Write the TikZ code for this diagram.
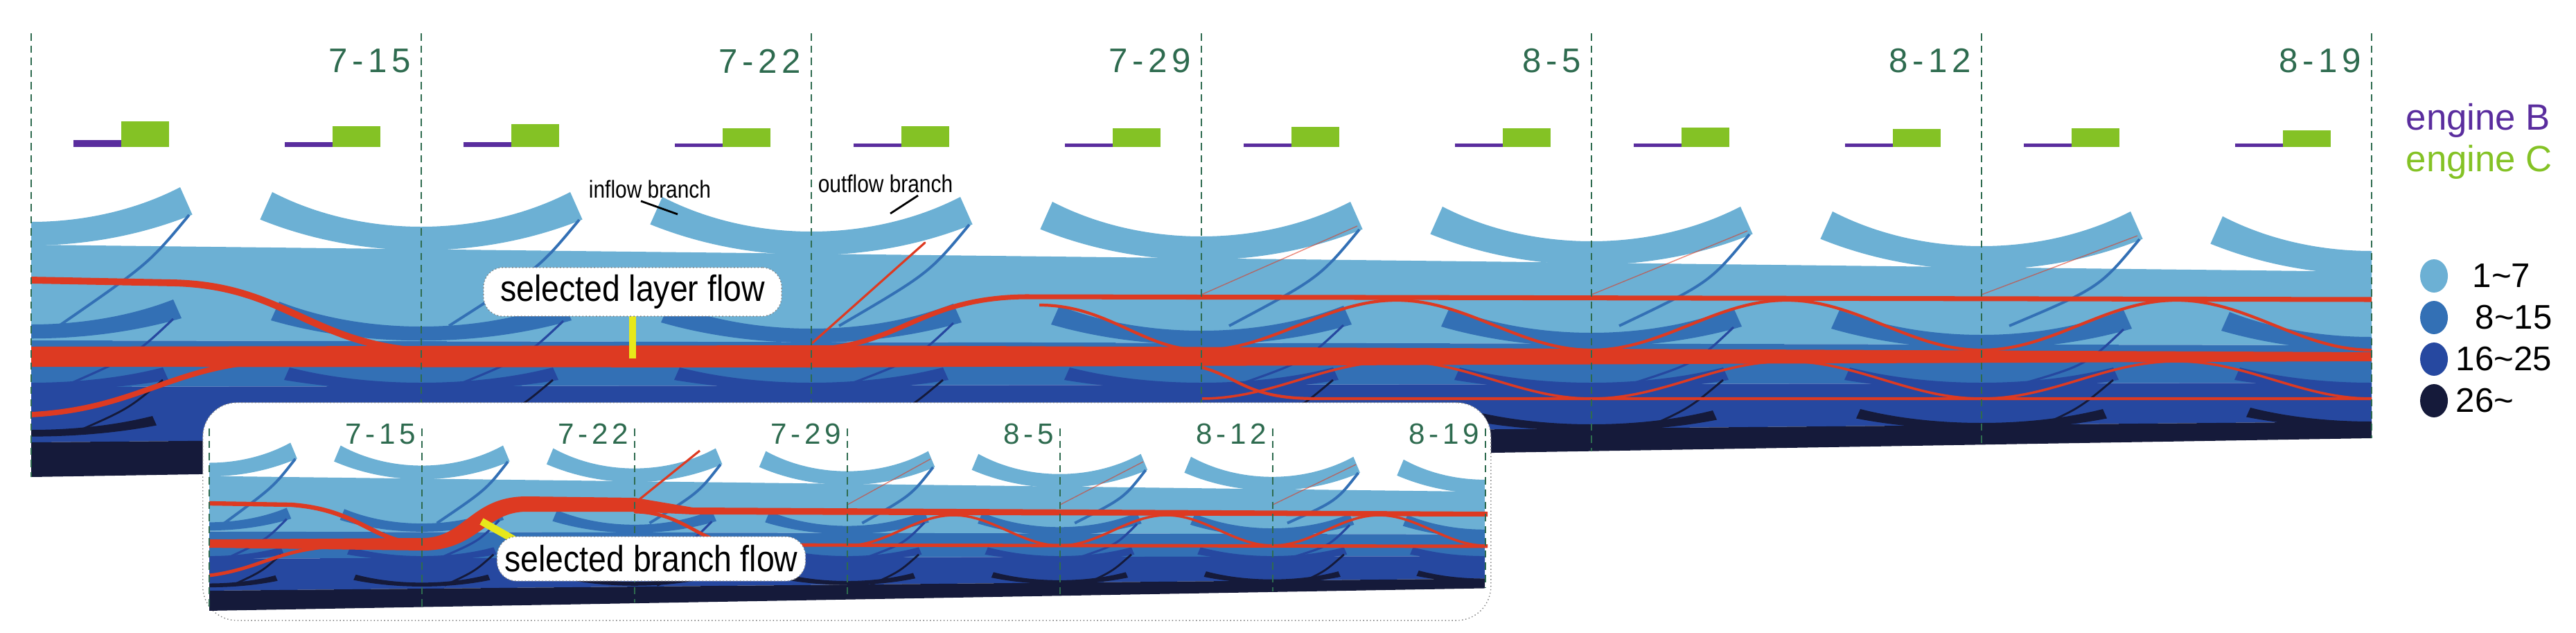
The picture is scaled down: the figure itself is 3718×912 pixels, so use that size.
\documentclass[tikz,border=0pt]{standalone}
\usepackage{fontspec}
\setmainfont{Liberation Sans}
\newfontfamily\labf[LetterSpace=14]{Liberation Sans}
\definecolor{cL}{HTML}{6CB0D4}
\definecolor{cM}{HTML}{3370B5}
\definecolor{cD}{HTML}{2648A0}
\definecolor{cN}{HTML}{151A3A}
\definecolor{cR}{HTML}{DD3A22}
\definecolor{cG}{HTML}{84C225}
\definecolor{cP}{HTML}{5A2D9E}
\definecolor{cT}{HTML}{2E6B4F}
\definecolor{cY}{HTML}{E8E81A}
% crescent: X, y0, sag, end thickness, centre thickness, half width, colour
\newcommand\cres[7]{%
  \fill[#7] (#1-#6,#2) .. controls (#1-#6*0.4,{#2+#3/0.75}) and (#1+#6*0.4,{#2+#3/0.75}) .. (#1+#6,#2)
  -- (#1+#6+#4*0.4,#2+#4*0.9) .. controls (#1+#6*0.4,{#2+#4+(#3+#5-#4)/0.75}) and (#1-#6*0.4,{#2+#4+(#3+#5-#4)/0.75}) .. (#1-#6-#4*0.4,#2+#4*0.9) -- cycle;}
\newcommand\chartbody{%
  \begin{scope}
  \clip (45,200) -- (3423,200) -- (3423,632) -- (45,688) -- cycle;
  \fill[cL] (45,353) -- (3423,392) -- (3423,498) -- (45,491) -- cycle;
  \fill[cM] (45,491) -- (3423,498) -- (3423,552) -- (45,558) -- cycle;
  \fill[cD] (45,558) -- (3423,552) -- (3423,608) -- (45,638) -- cycle;
  \fill[cN] (45,638) -- (3423,608) -- (3423,632) -- (45,688) -- cycle;
  \foreach \k in {0,...,6}{
    \pgfmathsetmacro\X{45+563*\k}
    \pgfmathsetmacro\ya{270+7*\k}
    \pgfmathsetmacro\yb{432+3*\k}
    \pgfmathsetmacro\yc{530}
    \pgfmathsetmacro\yd{600-2*\k}
    \cres{\X}{\ya}{50}{44}{35}{215}{cL}
    \cres{\X}{\yb}{36}{30}{21}{205}{cM}
    \cres{\X}{\yc}{22}{20}{12}{190}{cD}
    \cres{\X}{\yd}{20}{15}{10}{175}{cN}
    \draw[cM, line width=1.1pt] (\X+228,\ya+40) .. controls (\X+170,\ya+110) .. (\X+40,470);
    \draw[cD, line width=0.9pt] (\X+205,\yb+28) .. controls (\X+150,\yb+80) .. (\X+50,556);
    \draw[cN, line width=0.8pt] (\X+190,\yc+18) .. controls (\X+140,\yc+60) .. (\X+60,625);
  }
  \end{scope}}
\begin{document}
\begin{tikzpicture}[x=0.01cm,y=-0.01cm,
  wkline/.style={cT, line width=0.5pt, dash pattern=on 3pt off 2pt},
  wk/.style={font=\labf\fontsize{14}{16}\selectfont, text=cT, anchor=east, inner sep=0pt},
  wks/.style={font=\labf\fontsize{12}{14}\selectfont, text=cT, anchor=east, inner sep=0pt},
  call/.style={draw=gray, densely dotted, fill=white, rounded corners=8pt, inner sep=3pt, font=\fontsize{15}{17}\selectfont},
  redl/.style={cR, line cap=round}]
\useasboundingbox (0,0) rectangle (3718,912);
% ===== main chart =====
\chartbody
\begin{scope}
\clip (45,200) -- (3423,200) -- (3423,632) -- (45,688) -- cycle;
\fill[cR] (45,500) -- (1172,498) -- (3423,508) -- (3423,521) -- (1172,530) -- (45,529) -- cycle;
\draw[redl, line width=2.8pt] (45,404) -- (250,408) .. controls (420,412) and (450,505) .. (640,508);
\draw[redl, line width=2.2pt] (45,598) .. controls (200,590) and (250,525) .. (400,520) -- (608,518);
\draw[redl, line width=2pt] (1150,505) .. controls (1300,505) and (1320,430) .. (1480,428) -- (3423,432);
\draw[redl, line width=0.9pt] (1172,495) -- (1335,350);
\foreach \k in {3,4,5}{\pgfmathsetmacro\X{45+563*\k}
  \draw[cR, opacity=0.6, line width=0.4pt] (\X,425) -- (\X+225,{305+7*\k});}
\draw[cR, line width=1.2pt] (1500,440) .. controls (1600,440) and (1650,505) .. (1735,505);
\draw[cR, line width=1.2pt, domain=1735:3423, samples=160] plot (\x,{469+36*cos(0.639432*(\x-45))});
\draw[cR, line width=1pt, domain=1735:3423, samples=160] plot (\x,{548+27*cos(0.639432*(\x-45))});
\draw[cR, line width=1.2pt] (1735,530) .. controls (1790,545) and (1800,575) .. (1900,575) -- (3423,575);
\end{scope}
\foreach \k in {0,...,6}{\pgfmathsetmacro\X{45+563*\k}
  \pgfmathsetmacro\yb{688-56*\k/6}
  \draw[wkline] (\X,48) -- (\X,\yb);}
\foreach \k/\t in {1/7-15,2/7-22,3/7-29,4/8-5,5/8-12,6/8-19}{
  \node[wk] (w\k) at ({45+563*\k-14},88) {\t};}
% engine bars
\foreach \i/\gh/\ph in {0/37/10,1/30/7,2/33/7,3/27/5,4/30/5,5/27/5,6/29/5,7/27/5,8/28/5,9/26/5,10/27/5,11/24/5}{
  \pgfmathtruncatemacro\wk{int(\i/2)}
  \pgfmathsetmacro\bx{ifthenelse(mod(\i,2)==0,45+563*\wk+61,45+563*(\wk+1)-197)}
  \fill[cP] (\bx,212-\ph) rectangle (\bx+69,212);
  \fill[cG] (\bx+69,212-\gh) rectangle (\bx+138,212);
}
% legend
\node[text=cP, anchor=west, inner sep=0pt, font=\fontsize{15}{17}\selectfont] (lb) at (3472,174) {engine B};
\node[text=cG, anchor=west, inner sep=0pt, font=\fontsize{15}{17}\selectfont] (lc) at (3472,234) {engine C};
\foreach \c/\y/\t/\xx in {cL/398/1\textasciitilde7/3568,cM/458/8\textasciitilde15/3572,cD/518/16\textasciitilde25/3544,cN/578/26\textasciitilde/3544}{
  \fill[\c] (3513,\y) ellipse (20 and 24);
  \node[anchor=west, inner sep=0pt, font=\fontsize{14}{16}\selectfont] at (\xx,\y) {\t};}
% callouts main
\fill[cY] (908,453) rectangle (918,517);
\node[call, minimum width=4.3cm, minimum height=0.6cm] (sel) at (913,421) {\scalebox{0.88}[1]{selected layer flow}};
\node[font=\fontsize{10}{12}\selectfont, inner sep=0pt] (inf) at (938,273) {\scalebox{0.85}[1]{inflow branch}};
\draw[line width=0.8pt] (925,290) -- (978,309);
\node[font=\fontsize{10}{12}\selectfont, inner sep=0pt] (outf) at (1278,265) {\scalebox{0.85}[1]{outflow branch}};
\draw[line width=0.8pt] (1325,282) -- (1285,308);
% ===== inset =====
\node[draw=gray, densely dotted, fill=white, rounded corners=14pt, minimum width=18.58cm, minimum height=3.14cm, anchor=north west, inner sep=0pt] (inset) at (292,580) {};
\begin{scope}[shift={(277.5,481.9)}, xscale=0.545, yscale=0.58]
\chartbody
\end{scope}
\begin{scope}
\clip (302,600) -- (2147,600) -- (2147,848) -- (302,880) -- cycle;
\draw[redl, line width=1.8pt] (302,726) -- (420,728) .. controls (520,735) and (540,784) .. (610,784);
\fill[cR] (302,778) -- (610,776) .. controls (670,776) and (680,716) .. (760,716) -- (917,718) -- (1000,732) -- (2147,738) -- (2147,745) -- (1000,742) -- (917,738) -- (760,738) .. controls (700,738) and (690,794) .. (610,794) -- (302,790) -- cycle;
\draw[redl, line width=1.4pt] (917,738) .. controls (990,740) and (1010,785) .. (1070,786) -- (2147,788);
\draw[redl, line width=1.4pt] (302,830) .. controls (380,820) and (400,790) .. (500,787);
\draw[cR, line width=0.9pt] (917,725) -- (1010,650);
\foreach \k in {3,4,5}{\pgfmathsetmacro\X{302+307*\k}
  \draw[cR, opacity=0.6, line width=0.4pt] (\X,728) -- (\X+120,{650+4*\k});}
\draw[cR, line width=1pt, domain=1224:2147, samples=120] plot (\x,{765+22*cos(1.172638*(\x-302))});
\end{scope}
\foreach \k in {0,...,6}{\pgfmathsetmacro\X{302+307*\k}
  \pgfmathsetmacro\yb{880-32*\k/6}
  \draw[wkline] (\X,618) -- (\X,\yb);}
\foreach \k/\t in {1/7-15,2/7-22,3/7-29,4/8-5,5/8-12,6/8-19}{
  \node[wks] (v\k) at ({302+307*\k-8},626) {\t};}
\draw[cY, line width=3pt] (695,752) -- (745,780);
\node[call, minimum width=4.45cm, minimum height=0.64cm] (selb) at (940,806) {\scalebox{0.88}[1]{selected branch flow}};
\end{tikzpicture}
\end{document}
